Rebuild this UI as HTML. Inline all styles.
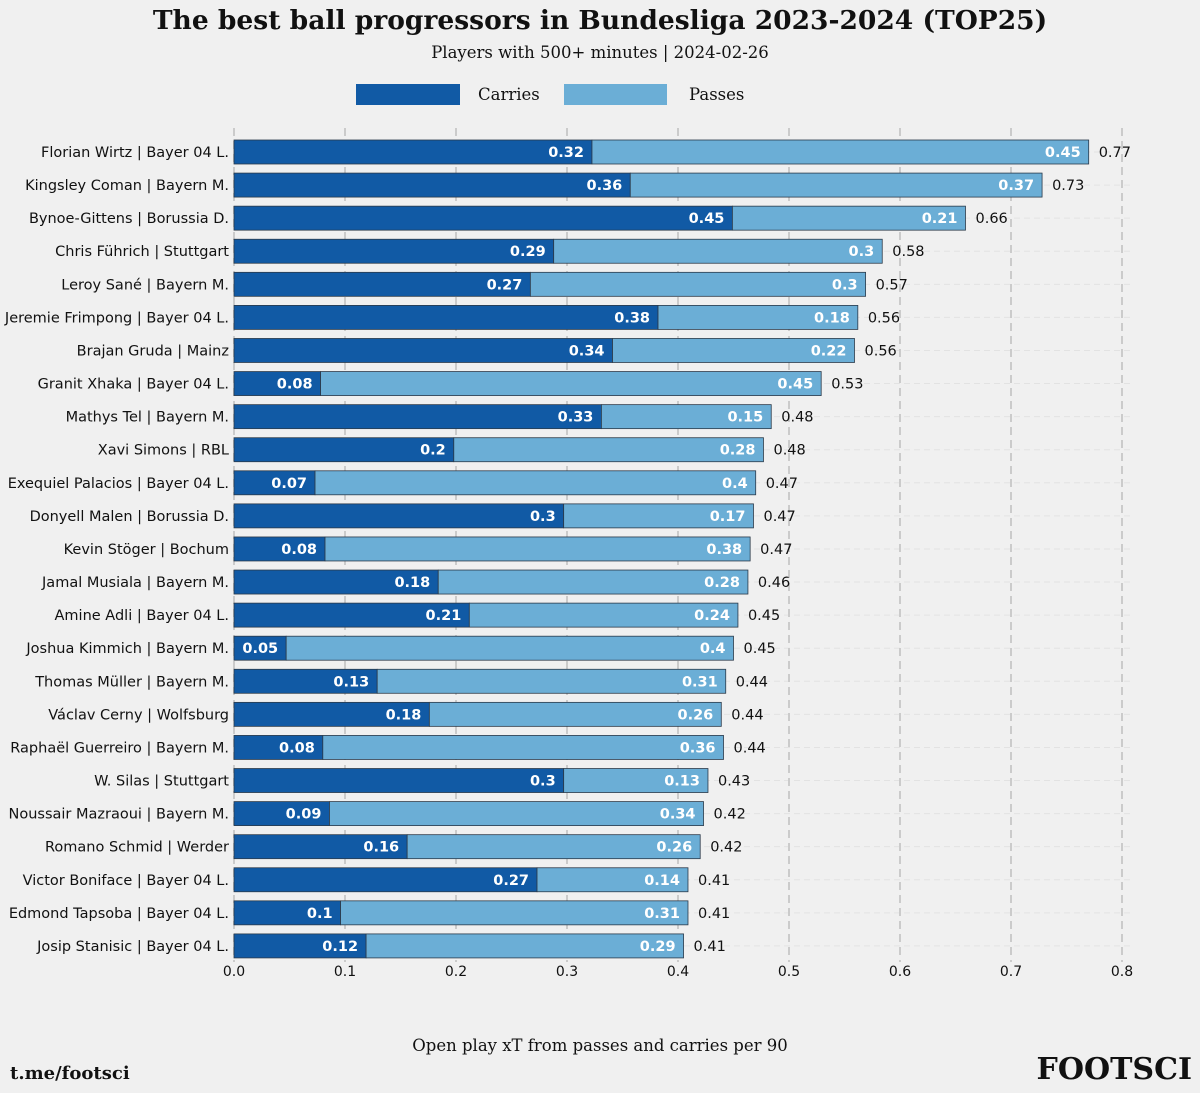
<!DOCTYPE html>
<html><head><meta charset="utf-8">
<style>
html,body{margin:0;padding:0;background:#f0f0f0;}
svg{display:block;}
.sans{font-family:"DejaVu Sans","Liberation Sans",sans-serif;}
.serif{font-family:"DejaVu Serif","Liberation Serif",serif;}
</style></head>
<body>
<svg id="chart" width="1200" height="1093" viewBox="0 0 1200 1093" xmlns="http://www.w3.org/2000/svg">
<rect width="1200" height="1093" fill="#f0f0f0"/>
<text x="600" y="29" text-anchor="middle" class="serif" font-size="26.5" font-weight="bold" fill="#111">The best ball progressors in Bundesliga 2023-2024 (TOP25)</text>
<text x="600" y="58" text-anchor="middle" class="serif" font-size="16.5" fill="#111">Players with 500+ minutes | 2024-02-26</text>
<g>
<rect x="356" y="84" width="104" height="21" fill="#115aa5"/>
<text x="478" y="100" class="serif" font-size="16.5" fill="#111">Carries</text>
<rect x="564" y="84" width="103" height="21" fill="#6baed6"/>
<text x="689" y="100" class="serif" font-size="16.5" fill="#111">Passes</text>
</g>
<g id="grid"></g>
<g id="bars"></g>
<g id="axis"></g>
<text x="600" y="1051" text-anchor="middle" class="serif" font-size="16.5" fill="#111">Open play xT from passes and carries per 90</text>
<text x="10" y="1079" class="serif" font-size="18" font-weight="bold" fill="#111">t.me/footsci</text>
<text x="1192" y="1079" text-anchor="end" class="serif" font-size="30" font-weight="bold" fill="#111">FOOTSCI</text>
</svg>
<script>
const players = ["Florian Wirtz | Bayer 04 L.","Kingsley Coman | Bayern M.","Bynoe-Gittens | Borussia D.","Chris Führich | Stuttgart","Leroy Sané | Bayern M.","Jeremie Frimpong | Bayer 04 L.","Brajan Gruda | Mainz","Granit Xhaka | Bayer 04 L.","Mathys Tel | Bayern M.","Xavi Simons | RBL","Exequiel Palacios | Bayer 04 L.","Donyell Malen | Borussia D.","Kevin Stöger | Bochum","Jamal Musiala | Bayern M.","Amine Adli | Bayer 04 L.","Joshua Kimmich | Bayern M.","Thomas Müller | Bayern M.","Václav Cerny | Wolfsburg","Raphaël Guerreiro | Bayern M.","W. Silas | Stuttgart","Noussair Mazraoui | Bayern M.","Romano Schmid | Werder","Victor Boniface | Bayer 04 L.","Edmond Tapsoba | Bayer 04 L.","Josip Stanisic | Bayer 04 L."];
const carries = [0.3225,0.357,0.449,0.288,0.267,0.382,0.341,0.078,0.331,0.198,0.073,0.297,0.082,0.184,0.212,0.047,0.129,0.176,0.080,0.297,0.086,0.156,0.273,0.096,0.119];
const passes = [0.4475,0.371,0.210,0.296,0.302,0.180,0.218,0.451,0.153,0.279,0.397,0.171,0.383,0.279,0.242,0.403,0.314,0.263,0.361,0.130,0.337,0.264,0.136,0.313,0.286];
const xTicks = [0,0.1,0.2,0.3,0.4,0.5,0.6,0.7,0.8];
const xTickLabels = ["0.0","0.1","0.2","0.3","0.4","0.5","0.6","0.7","0.8"];

const NS="http://www.w3.org/2000/svg";
const X0=234, PX=1110, Y0=152, STEP=33.08, BH=24;
const xs=v=>X0+v*PX;
const ys=i=>Y0+i*STEP;
function mk(tag,attrs,parent){const e=document.createElementNS(NS,tag);for(const k in attrs)e.setAttribute(k,attrs[k]);parent.appendChild(e);return e;}
const grid=document.getElementById('grid'),bars=document.getElementById('bars'),axis=document.getElementById('axis');
const fmt=v=>String(Math.round(v*100)/100);

players.forEach((p,i)=>{
  const l=mk('line',{x1:X0,x2:1130,y1:ys(i),y2:ys(i),stroke:'#e2e2e2','stroke-width':1,'stroke-dasharray':'6 4'},grid);
  
  
});
xTicks.forEach((t,i)=>{
  const l=mk('line',{x1:xs(t),x2:xs(t),y1:128,y2:962,stroke:'#cbcbcb','stroke-width':2,'stroke-dasharray':'8 5'},grid);
  
  
  const tx=mk('text',{x:xs(t),y:976,'text-anchor':'middle','class':'sans','font-size':14,fill:'#111'},axis);
  tx.textContent=xTickLabels[i];
  
  
});
players.forEach((p,i)=>{
  const y=ys(i), c=carries[i], q=passes[i], tot=c+q;
  const lab=mk('text',{x:229,y:y+5,'text-anchor':'end','class':'sans','font-size':14.5,fill:'#111'},axis);
  lab.textContent=p;
  
  
  const b1=mk('rect',{x:xs(0),y:y-BH/2,width:xs(c)-xs(0),height:BH,fill:'#115aa5',stroke:'#2b3a4a','stroke-width':0.8},bars);
  
  
  const b2=mk('rect',{x:xs(c),y:y-BH/2,width:xs(tot)-xs(c),height:BH,fill:'#6baed6',stroke:'#2b3a4a','stroke-width':0.8},bars);
  
  
  const t1=mk('text',{x:xs(c)-8,y:y+5,'text-anchor':'end','class':'sans','font-size':14.5,'font-weight':'bold',fill:'#fff'},bars);
  t1.textContent=fmt(c);
  
  
  const t2=mk('text',{x:xs(tot)-8,y:y+5,'text-anchor':'end','class':'sans','font-size':14.5,'font-weight':'bold',fill:'#fff'},bars);
  t2.textContent=fmt(q);
  
  
  const t3=mk('text',{x:xs(tot)+10,y:y+5,'class':'sans','font-size':14.5,fill:'#111'},bars);
  t3.textContent=fmt(tot);
  
  
});
</script>
</body></html>
